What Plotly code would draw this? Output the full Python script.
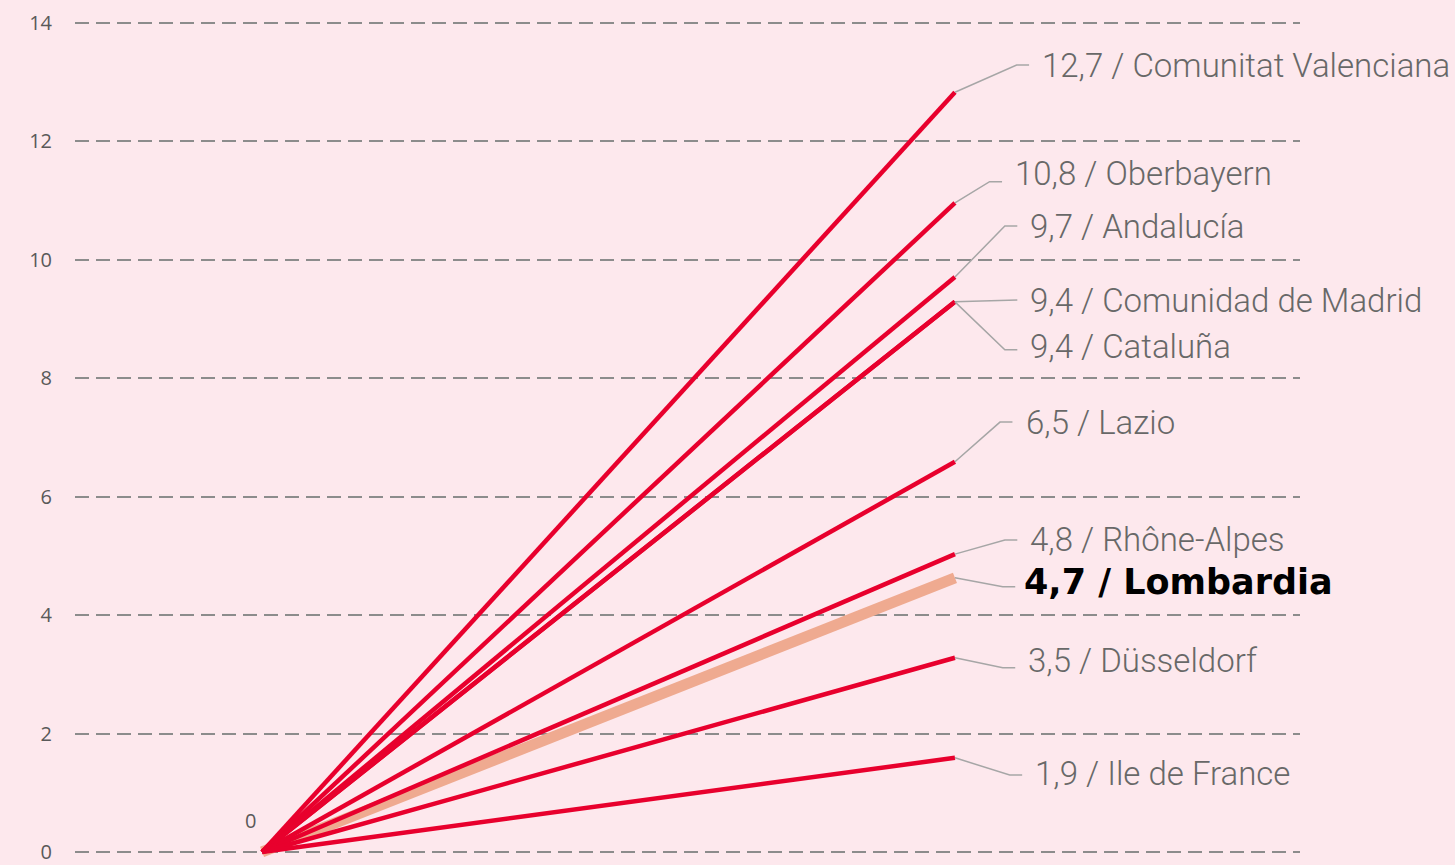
import plotly.graph_objects as go

# ---- data ----
regions = ["Comunitat Valenciana", "Oberbayern", "Andalucía", "Comunidad de Madrid",
           "Cataluña", "Lazio", "Rhône-Alpes", "Lombardia", "Düsseldorf", "Ile de France"]
label_values = ["12,7", "10,8", "9,7", "9,4", "9,4", "6,5", "4,8", "4,7", "3,5", "1,9"]
end_values = [12.83, 10.96, 9.71, 9.29, 9.29, 6.59, 5.03, 4.63, 3.28, 1.59]
x_points = [0, 1]
y_ticks = [0, 2, 4, 6, 8, 10, 12, 14]
highlight = "Lombardia"

# ---- label placement (style/layout) ----
leader_y = [13.29, 11.32, 10.57, 9.32, 8.48, 7.26, 5.27, 4.48, 3.11, 1.30]
text_y = [13.29, 11.45, 10.57, 9.32, 8.53, 7.25, 5.27, 4.56, 3.23, 1.32]
elbow_x = [1.089, 1.050, 1.072, 1.072, 1.072, 1.065, 1.072, 1.069, 1.069, 1.079]

BG = "#FDE8ED"
RED = "#E8002D"
SALMON = "#EFAA90"
LEADER = "#A6A6A6"
GREY_TXT = "#686868"

fig = go.Figure()

# highlight line first (underneath)
for name, v in zip(regions, end_values):
    if name == highlight:
        fig.add_trace(go.Scatter(x=x_points, y=[0, v], mode="lines",
                                 line=dict(color=SALMON, width=11),
                                 hoverinfo="skip", showlegend=False))
for name, v in zip(regions, end_values):
    if name != highlight:
        fig.add_trace(go.Scatter(x=x_points, y=[0, v], mode="lines",
                                 line=dict(color=RED, width=4.5),
                                 hoverinfo="skip", showlegend=False))

# leader lines + labels
for name, lv, v, ly, ty, ex in zip(regions, label_values, end_values, leader_y, text_y, elbow_x):
    fig.add_trace(go.Scatter(x=[1, ex, ex + 0.018], y=[v, ly, ly], mode="lines",
                             line=dict(color=LEADER, width=1.5),
                             hoverinfo="skip", showlegend=False))
    if name == highlight:
        fig.add_annotation(x=ex + 0.028, y=ty, xref="x", yref="y",
                           text=f"{lv} / {name}", showarrow=False,
                           xanchor="left", yanchor="middle",
                           font=dict(family="DejaVu Sans", size=35, color="#000000", weight="bold"))
    else:
        fig.add_annotation(x=ex + 0.034, y=ty, xref="x", yref="y",
                           text=f"{lv} / {name}", showarrow=False,
                           xanchor="left", yanchor="middle",
                           font=dict(family="Roboto", size=33, color=GREY_TXT, weight=300))

# "0" start label
fig.add_annotation(x=-0.017, y=0.54, xref="x", yref="y", text="0", showarrow=False,
                   xanchor="center", yanchor="middle",
                   font=dict(family="Open Sans", size=20, color="#595959"))

fig.update_layout(
    width=1455, height=865,
    margin=dict(l=75, r=155, t=20, b=0),
    paper_bgcolor=BG, plot_bgcolor=BG,
    hovermode=False,
    xaxis=dict(range=[-0.27, 1.498], visible=False),
    yaxis=dict(range=[-0.22, 14.05], tickvals=y_ticks, ticktext=[str(t) for t in y_ticks],
               showgrid=True, gridcolor="#8C8C8C", gridwidth=1.5, griddash="14px,7px",
               zeroline=False, showline=False, ticks="",
               tickfont=dict(family="Open Sans", size=20, color="#595959"),
               ticklabelstandoff=22),
)

fig.write_html("out.html", config={"displayModeBar": False},
               post_script="document.body.style.margin='0';document.body.style.overflow='hidden';document.body.style.background='" + BG + "';")
